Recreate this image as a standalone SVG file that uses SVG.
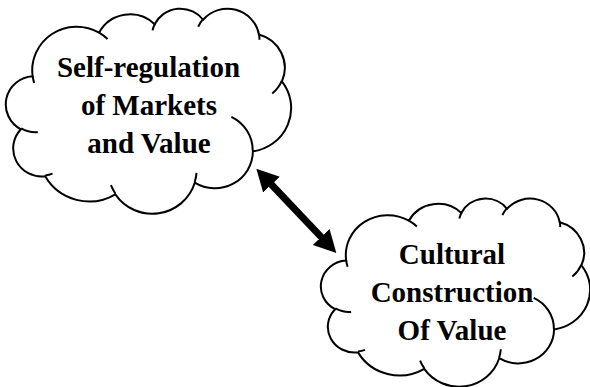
<svg xmlns="http://www.w3.org/2000/svg" width="590" height="387" viewBox="0 0 590 387">
  <defs>
    <style>
      .cloud { fill: #ffffff; stroke: #000000; stroke-width: 2; }
      .inner { fill: none; stroke: #000000; stroke-width: 2; }
      .label { font-family: "Liberation Serif", "Times New Roman", serif; font-weight: bold; font-size: 29px; fill: #000000; text-anchor: middle; }
      .conn { stroke: #000000; stroke-width: 7; fill: none; }
    </style>
    <marker id="head" markerUnits="userSpaceOnUse" viewBox="0 0 22 23" refX="0.5" refY="11.5" markerWidth="22" markerHeight="23" orient="auto-start-reverse">
      <path d="M0,0 L22,11.5 L0,23 Z" fill="#000000"/>
    </marker>
  </defs>
  <rect x="0" y="0" width="590" height="387" fill="#ffffff"/>

  <g id="connectors">
    <line class="conn" x1="271.15" y1="184.26" x2="321.55" y2="237.34" marker-start="url(#head)" marker-end="url(#head)"/>
  </g>

  <g id="node-self-regulation">
    <path class="cloud" transform="translate(7,8) scale(0.0065741,0.0047454)" vector-effect="non-scaling-stroke" d="M3900,14370 A6753,9190 0 0 1 14007,5203 A5333,7267 0 0 1 22458,3432 A4365,5945 0 0 1 29834,2478 A4857,6595 0 0 1 38319,5573 A5333,7273 0 0 1 41819,15457 A6775,9220 0 0 1 37406,30202 A5785,7867 0 0 1 28559,36813 A6752,9215 0 0 1 16484,39266 A7720,10543 0 0 1 5810,35475 A4360,5918 0 0 1 2118,25555 A4345,5945 0 0 1 3900,14370 Z"/>
    <path class="inner" transform="translate(7,8) scale(0.0065741,0.0047454)" vector-effect="non-scaling-stroke" d="M4693,26177 A4345,5945 0 0 1 2159,25380 M6928,34899 A4360,5918 0 0 1 5819,35281 M16478,39090 A6752,9215 0 0 1 15809,37348 M28827,34751 A6752,9215 0 0 1 28560,36660 M34129,22954 A5785,7867 0 0 1 37380,30090 M41798,15354 A5333,7273 0 0 1 40350,18030 M38324,5426 A4857,6595 0 0 1 38400,6690 M29078,3952 A4857,6595 0 0 1 29820,2340 M22141,4720 A4365,5945 0 0 1 22500,3331 M14000,5192 A6753,9190 0 0 1 15298,6539 M4127,15789 A6753,9190 0 0 1 3900,14371"/>
    <text class="label" x="148.5" y="77">Self-regulation</text>
    <text class="label" x="149" y="115">of Markets</text>
    <text class="label" x="149" y="153">and Value</text>
  </g>

  <g id="node-cultural-construction">
    <path class="cloud" transform="translate(322,198) scale(0.0062037,0.0043519)" vector-effect="non-scaling-stroke" d="M3900,14370 A6753,9190 0 0 1 14007,5203 A5333,7267 0 0 1 22458,3432 A4365,5945 0 0 1 29834,2478 A4857,6595 0 0 1 38319,5573 A5333,7273 0 0 1 41819,15457 A6775,9220 0 0 1 37406,30202 A5785,7867 0 0 1 28559,36813 A6752,9215 0 0 1 16484,39266 A7720,10543 0 0 1 5810,35475 A4360,5918 0 0 1 2118,25555 A4345,5945 0 0 1 3900,14370 Z"/>
    <path class="inner" transform="translate(322,198) scale(0.0062037,0.0043519)" vector-effect="non-scaling-stroke" d="M4693,26177 A4345,5945 0 0 1 2159,25380 M6928,34899 A4360,5918 0 0 1 5819,35281 M16478,39090 A6752,9215 0 0 1 15809,37348 M28827,34751 A6752,9215 0 0 1 28560,36660 M34129,22954 A5785,7867 0 0 1 37380,30090 M41798,15354 A5333,7273 0 0 1 40350,18030 M38324,5426 A4857,6595 0 0 1 38400,6690 M29078,3952 A4857,6595 0 0 1 29820,2340 M22141,4720 A4365,5945 0 0 1 22500,3331 M14000,5192 A6753,9190 0 0 1 15298,6539 M4127,15789 A6753,9190 0 0 1 3900,14371"/>
    <text class="label" x="452" y="264">Cultural</text>
    <text class="label" x="452" y="302">Construction</text>
    <text class="label" x="452" y="340">Of Value</text>
  </g>
</svg>
